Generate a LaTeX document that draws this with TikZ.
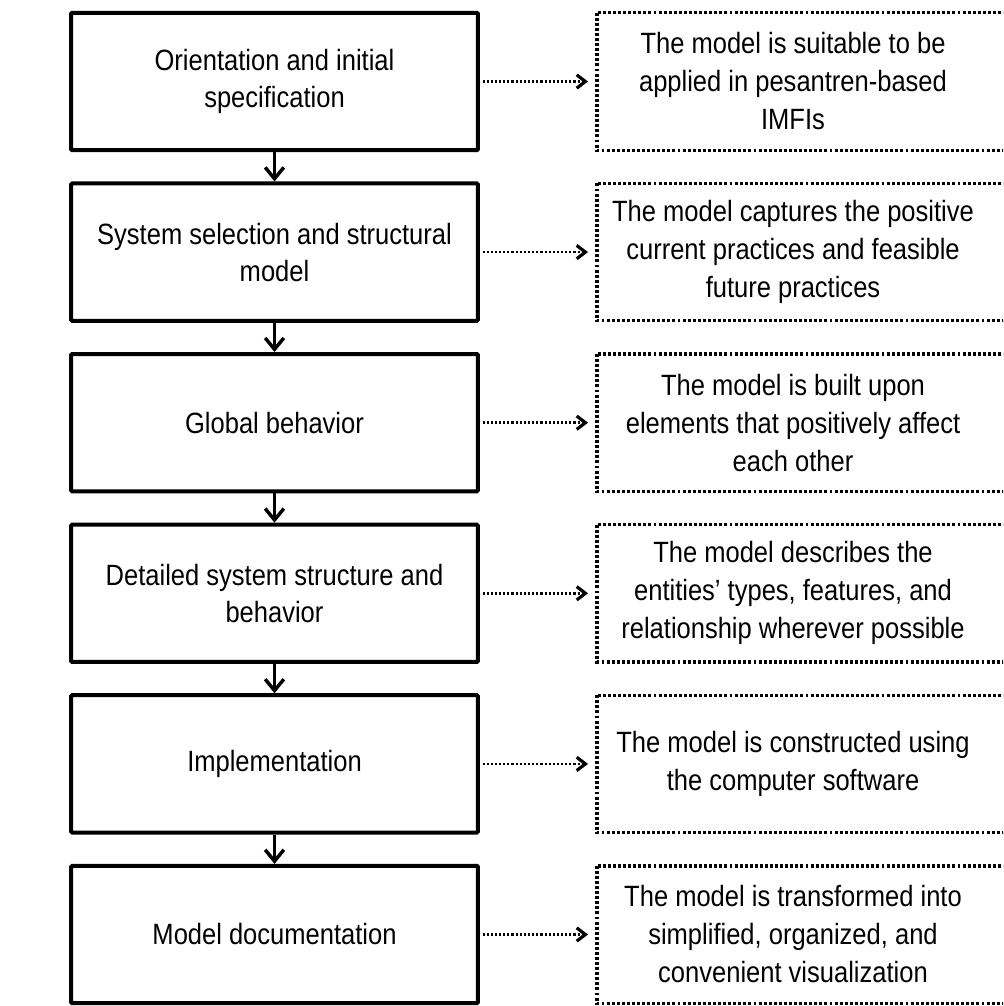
\documentclass[tikz,border=0pt]{standalone}
\usepackage{fontspec}
\setmainfont{Liberation Sans}[FakeStretch=0.87]
\usetikzlibrary{arrows.meta}
\begin{document}
\begin{tikzpicture}[x=0.75pt,y=-0.75pt,
  stage/.style={draw, line width=3pt, minimum width=305pt, minimum height=103pt,
    inner sep=0pt, align=center, rounded corners=0.8pt,
    font=\fontsize{22pt}{27.75pt}\selectfont},
  note/.style={minimum width=294pt, minimum height=103pt, inner sep=0pt, outer sep=0pt,
    align=center, font=\fontsize{22pt}{28.5pt}\selectfont},
  noteframe/.style={line width=2.5pt, dash pattern=on 2.2pt off 1.6pt},
  flow/.style={line width=2.6pt, -{Straight Barb[length=8.5pt,width=14pt,line width=2.6pt]}},
  link/.style={line width=1.9pt, dash pattern=on 1.6pt off 1.5pt,
    -{Straight Barb[length=6.5pt,width=10pt,line width=2.4pt]},
    shorten <=2pt, shorten >=6.75pt}]
\useasboundingbox (0,0) rectangle (1003,1006);
\clip (0,0) rectangle (1003,1006);

% process stages
\node[stage] (s1) at (274.5,81.5)  {Orientation and initial\\specification};
\node[stage] (s2) at (274.5,252.1) {System selection and structural\\model};
\node[stage] (s3) at (274.5,422.7) {Global behavior};
\node[stage] (s4) at (274.5,593.3) {Detailed system structure and\\behavior};
\node[stage] (s5) at (274.5,763.9) {Implementation};
\node[stage] (s6) at (274.5,934.5) {Model documentation};

% outcomes of each stage
\node[note] (n1) at (793,81.5)  {The model is suitable to be\\applied in pesantren-based\\IMFIs};
\node[note] (n2) at (793,252.1) {The model captures the positive\\current practices and feasible\\future practices};
\node[note] (n3) at (793,422.7) {The model is built upon\\elements that positively affect\\each other};
\node[note] (n4) at (793,593.3) {The model describes the\\entities’ types, features, and\\relationship wherever possible};
\node[note] (n5) at (793,763.9) {The model is constructed using\\the computer software};
\node[note] (n6) at (793,934.5) {The model is transformed into\\simplified, organized, and\\convenient visualization};

% dotted frames running off the right edge
\foreach \n in {n1,n2,n3,n4,n5,n6}
  \draw[noteframe] (\n.north west) rectangle ([xshift=30pt]\n.south east);

% stage sequence
\draw[flow] (s1) -- (s2);
\draw[flow] (s2) -- (s3);
\draw[flow] (s3) -- (s4);
\draw[flow] (s4) -- (s5);
\draw[flow] (s5) -- (s6);

% stage to outcome
\draw[link] (s1.east) -- (n1.west);
\draw[link] (s2.east) -- (n2.west);
\draw[link] (s3.east) -- (n3.west);
\draw[link] (s4.east) -- (n4.west);
\draw[link] (s5.east) -- (n5.west);
\draw[link] (s6.east) -- (n6.west);
\end{tikzpicture}
\end{document}
